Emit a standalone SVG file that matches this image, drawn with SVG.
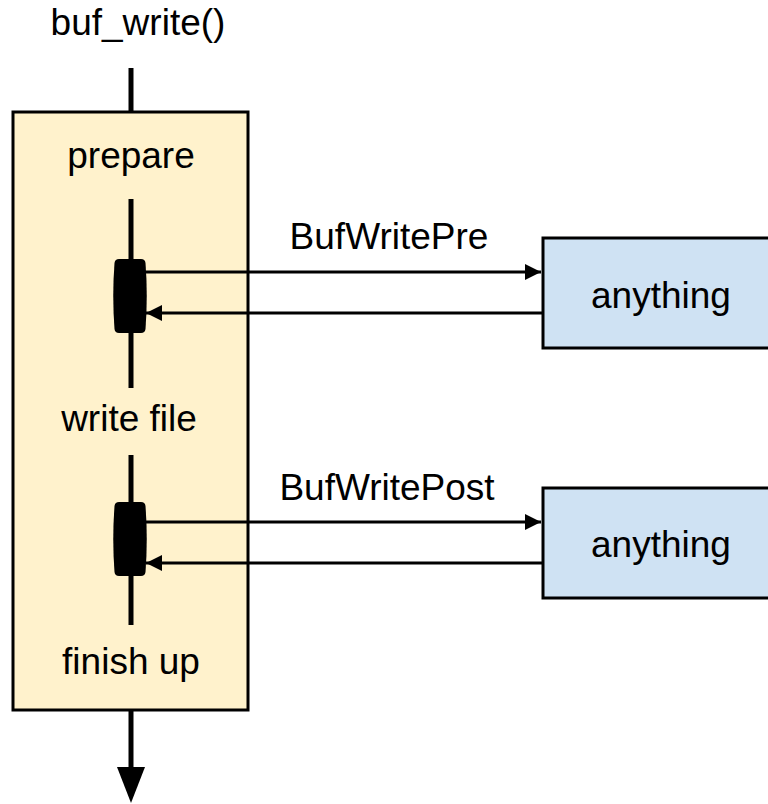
<svg xmlns="http://www.w3.org/2000/svg" width="768" height="804" viewBox="0 0 768 804">
<defs>
<style>
text{font-family:"Liberation Sans",Arial,sans-serif;font-size:37px;fill:#000;text-anchor:middle}
.box{stroke:#000;stroke-width:3}
.ln{stroke:#000;stroke-width:3;fill:none}
.thick{stroke:#000;stroke-width:5;fill:none}
</style>
<marker id="ah" viewBox="0 0 10 10" refX="10" refY="5" markerWidth="22" markerHeight="16" markerUnits="userSpaceOnUse" orient="auto"><path d="M0,0L10,5L0,10z" fill="#000"/></marker>
</defs>
<text x="138" y="35">buf_write()</text>
<g id="main">
<rect class="box" x="13" y="112" width="235" height="598" fill="#fff2cc"/>
<text x="131" y="168">prepare</text>
<text x="129" y="431">write file</text>
<text x="131" y="674">finish up</text>
</g>
<g id="hook1">
<path d="M119,259 L141,259 Q145,259 145.5,263 Q148,296 145.5,329 Q145,333 141,333 L119,333 Q115,333 114.5,329 Q112,296 114.5,263 Q115,259 119,259Z" fill="#000"/>
</g>
<g id="hook2">
<path d="M119,502 L141,502 Q145,502 145.5,506 Q148,539 145.5,572 Q145,576 141,576 L119,576 Q115,576 114.5,572 Q112,539 114.5,506 Q115,502 119,502Z" fill="#000"/>
</g>
<g id="any1">
<rect class="box" x="543" y="238" width="228" height="110" fill="#cfe2f3"/>
<text x="661" y="308">anything</text>
</g>
<g id="any2">
<rect class="box" x="543" y="488" width="228" height="110" fill="#cfe2f3"/>
<text x="661" y="557">anything</text>
</g>
<g id="connectors">
<line class="thick" x1="131" y1="68" x2="131" y2="112"/>
<line class="thick" x1="131" y1="199" x2="131" y2="388"/>
<line class="thick" x1="131" y1="455" x2="131" y2="625"/>
<line class="ln" x1="145" y1="272" x2="541" y2="272" marker-end="url(#ah)"/>
<line class="ln" x1="543" y1="313" x2="146" y2="313" marker-end="url(#ah)"/>
<line class="ln" x1="145" y1="522" x2="541" y2="522" marker-end="url(#ah)"/>
<line class="ln" x1="543" y1="563" x2="146" y2="563" marker-end="url(#ah)"/>
<line class="thick" x1="131" y1="711" x2="131" y2="775"/>
<path d="M117,767 L145,767 L131,803Z" fill="#000"/>
<text x="389" y="249">BufWritePre</text>
<text x="387" y="500">BufWritePost</text>
</g>
</svg>
